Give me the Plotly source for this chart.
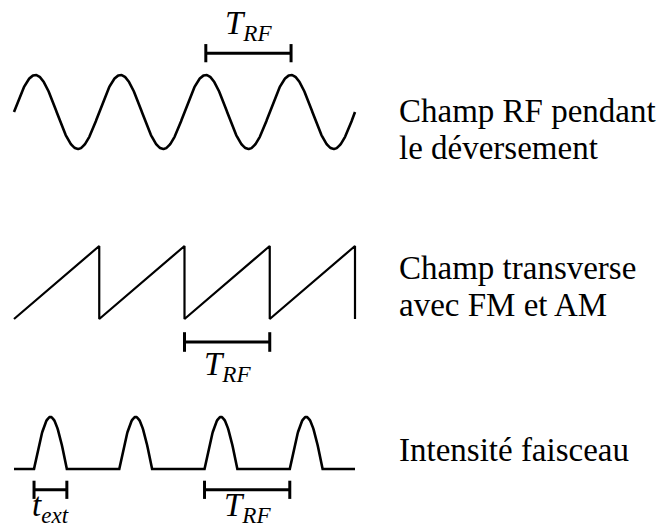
import numpy as np
import plotly.graph_objects as go

# ---- data (time in units of T_RF) ----
n_periods = 4
sine_samples = 801
saw_t = [0, 1, 1, 2, 2, 3, 3, 4, 4]
saw_v = [-1, 1, -1, 1, -1, 1, -1, 1, -1]
pulse_starts = [0.235, 1.235, 2.235, 3.235]
pulse_width = 0.385
pulse_height = 1.0

bar_rf_top = [2.25, 3.25]
bar_rf_mid = [2.0, 3.0]
bar_text = [0.235, 0.62]
bar_rf_bot = [2.235, 3.235]

labels_right = [
    ["Champ RF pendant", "le déversement"],
    ["Champ transverse", "avec FM et AM"],
    ["Intensité faisceau"],
]

# ---- build curves ----
t_sine = np.linspace(0, n_periods, sine_samples)
v_sine = np.sin(2 * np.pi * t_sine)

pt, pv = [0.0], [0.0]
for s in pulse_starts:
    tt = np.linspace(s, s + pulse_width, 60)
    pt += list(tt)
    pv += list(pulse_height * np.sin(np.pi * (tt - s) / pulse_width))
pt.append(n_periods)
pv.append(0.0)

W, H = 671, 528
X0_PX, UNIT_X = 14.0, 85.25


def band(center_px, unit_px, top_px, bottom_px):
    dom = [1 - bottom_px / H, 1 - top_px / H]
    rng = [(center_px - bottom_px) / unit_px, (center_px - top_px) / unit_px]
    return dom, rng


d1, r1 = band(112, 37, 0, 176)
d2, r2 = band(282.5, 36.5, 176, 400)
d3, r3 = band(469, 52, 400, 528)

LW = 2.6
fig = go.Figure()
fig.add_trace(go.Scatter(x=t_sine, y=v_sine, mode="lines", line=dict(color="black", width=LW), yaxis="y"))
fig.add_trace(go.Scatter(x=saw_t, y=saw_v, mode="lines", line=dict(color="black", width=2.2), yaxis="y2"))
fig.add_trace(go.Scatter(x=pt, y=pv, mode="lines", line=dict(color="black", width=LW, shape="linear"), yaxis="y3"))


def scale_bar(xs, y, axis, tick):
    fig.add_trace(go.Scatter(
        x=xs, y=[y, y], mode="lines+markers", yaxis=axis,
        line=dict(color="black", width=3),
        marker=dict(symbol="line-ns", size=tick, line=dict(color="black", width=3)),
    ))


scale_bar(bar_rf_top, 1.59, "y", 13)
scale_bar(bar_rf_mid, -1.63, "y2", 14)
scale_bar(bar_text, -0.40, "y3", 13)
scale_bar(bar_rf_bot, -0.40, "y3", 13)

FONT = "Liberation Serif, Times New Roman, serif"
TRF = "<i>T</i><sub><i>RF</i></sub>"
ann = []


def lab(text, x, y, yref, size=33):
    ann.append(dict(text=text, x=x, y=y, xref="x", yref=yref, showarrow=False,
                    xanchor="center", yanchor="middle",
                    font=dict(family=FONT, size=size, color="black")))


lab(TRF, np.mean(bar_rf_top), 2.33, "y")
lab(TRF, np.mean(bar_rf_mid), -2.3, "y2")
lab("<i>t</i><sub><i>ext</i></sub>", np.mean(bar_text), -0.74, "y3")
lab(TRF, np.mean(bar_rf_bot), -0.74, "y3")

line_px = [[111, 148], [268, 305], [450]]
for lines, ys in zip(labels_right, line_px):
    for text, ypx in zip(lines, ys):
        ann.append(dict(text=text, x=397 / W, y=1 - ypx / H, xref="paper", yref="paper",
                        showarrow=False, xanchor="left", yanchor="middle",
                        font=dict(family=FONT, size=33, color="black")))

ax_common = dict(visible=False, fixedrange=True)
fig.update_layout(
    width=W, height=H,
    margin=dict(l=0, r=0, t=0, b=0),
    paper_bgcolor="white", plot_bgcolor="white",
    showlegend=False, hovermode=False,
    xaxis=dict(range=[-X0_PX / UNIT_X, (W - X0_PX) / UNIT_X], **ax_common),
    yaxis=dict(domain=d1, range=r1, **ax_common),
    yaxis2=dict(domain=d2, range=r2, **ax_common),
    yaxis3=dict(domain=d3, range=r3, **ax_common),
    annotations=ann,
)
fig.write_html("out.html", config={"displayModeBar": False},
               post_script="document.body.style.margin='0';document.body.style.overflow='hidden';")
